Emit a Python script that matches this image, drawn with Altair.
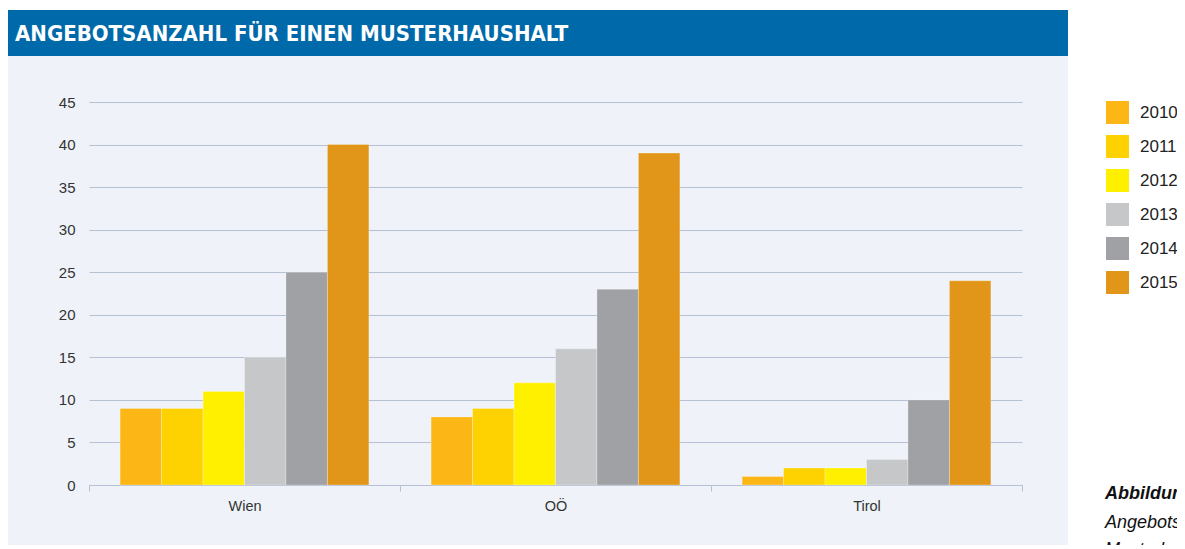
import altair as alt
import pandas as pd

regions = ["Wien", "OÖ", "Tirol"]
years = ["2010", "2011", "2012", "2013", "2014", "2015"]
values = {
    "Wien": [9, 9, 11, 15, 25, 40],
    "OÖ": [8, 9, 12, 16, 23, 39],
    "Tirol": [1, 2, 2, 3, 10, 24],
}
colors = ["#FCB616", "#FED100", "#FFF000", "#C6C7C9", "#A0A1A5", "#E19619"]
y_ticks = [0, 5, 10, 15, 20, 25, 30, 35, 40, 45]
title_text = "ANGEBOTSANZAHL FÜR EINEN MUSTERHAUSHALT"
caption_lines = ["Abbildung 5:", "Angebotsanzahl für einen", "Musterhaushalt"]

rows = []
for r in regions:
    for y, v in zip(years, values[r]):
        rows.append({"Region": r, "Jahr": y, "Anzahl": v})
df = pd.DataFrame(rows)
one = pd.DataFrame({"a": [0]})

W, H = 933, 383
PANEL = "#EFF3F9"

white_right = alt.Chart(one).mark_rect(color="white").encode(
    x=alt.value(979), x2=alt.value(1200), y=alt.value(-100), y2=alt.value(500)
)
white_top = alt.Chart(one).mark_rect(color="white").encode(
    x=alt.value(-100), x2=alt.value(1200), y=alt.value(-100), y2=alt.value(-92)
)
banner = alt.Chart(one).mark_rect(color="#0069AA").encode(
    x=alt.value(-81), x2=alt.value(979), y=alt.value(-92), y2=alt.value(-46)
)
title = alt.Chart(one).mark_text(
    align="left", baseline="middle", color="white", fontSize=22,
    fontWeight="bold", font="DejaVu Sans Condensed"
).encode(x=alt.value(-74), y=alt.value(-68), text=alt.value(title_text))

bars = alt.Chart(df).mark_bar(stroke="#ffffff", strokeOpacity=0.35, strokeWidth=0.8).encode(
    x=alt.X("Region:N", sort=regions, title=None,
            scale=alt.Scale(paddingInner=0, paddingOuter=0),
            axis=alt.Axis(labelAngle=0, tickBand="extent", tickSize=6, tickColor="#B7C1D5",
                          domainColor="#B7C1D5", labelFontSize=14.5, labelColor="#333333",
                          labelPadding=8, labelFont="Liberation Sans")),
    xOffset=alt.XOffset("Jahr:N", sort=years,
                        scale=alt.Scale(paddingInner=0, paddingOuter=0.75)),
    y=alt.Y("Anzahl:Q", title=None, scale=alt.Scale(domain=[0, 45], nice=False),
            axis=alt.Axis(values=y_ticks, ticks=False, domain=False, gridColor="#B7C1D5",
                          labelFontSize=15, labelColor="#333333", labelPadding=14,
                          labelFont="Liberation Sans")),
    color=alt.Color("Jahr:N", sort=years, title=None,
                    scale=alt.Scale(domain=years, range=colors),
                    legend=alt.Legend(orient="none", legendX=1017, legendY=-1,
                                      symbolType="square", symbolSize=529,
                                      symbolStrokeWidth=0, symbolOpacity=1,
                                      labelFontSize=17, labelColor="#222222",
                                      labelFont="Liberation Sans", rowPadding=11,
                                      labelOffset=11, zindex=2)),
)

cap1 = alt.Chart(one).mark_text(
    align="left", baseline="alphabetic", fontSize=18, fontWeight="bold", fontStyle="italic",
    color="#111111", font="Liberation Sans"
).encode(x=alt.value(1016), y=alt.value(397), text=alt.value(caption_lines[0]))
cap2 = alt.Chart(one).mark_text(
    align="left", baseline="alphabetic", fontSize=18, fontStyle="italic",
    color="#111111", font="Liberation Sans"
).encode(x=alt.value(1016), y=alt.value(426), text=alt.value(caption_lines[1]))
cap3 = alt.Chart(one).mark_text(
    align="left", baseline="alphabetic", fontSize=18, fontStyle="italic",
    color="#111111", font="Liberation Sans"
).encode(x=alt.value(1016), y=alt.value(453), text=alt.value(caption_lines[2]))

chart = alt.layer(white_right, white_top, banner, title, bars, cap1, cap2, cap3).properties(
    width=W, height=H,
    background=PANEL,
    autosize=alt.AutoSizeParams(type="none"),
    padding={"left": 81, "top": 94, "right": 155, "bottom": 60},
).configure_view(strokeWidth=0, stroke=None)

chart.save("out.html", embed_options={"renderer": "svg", "actions": False})
